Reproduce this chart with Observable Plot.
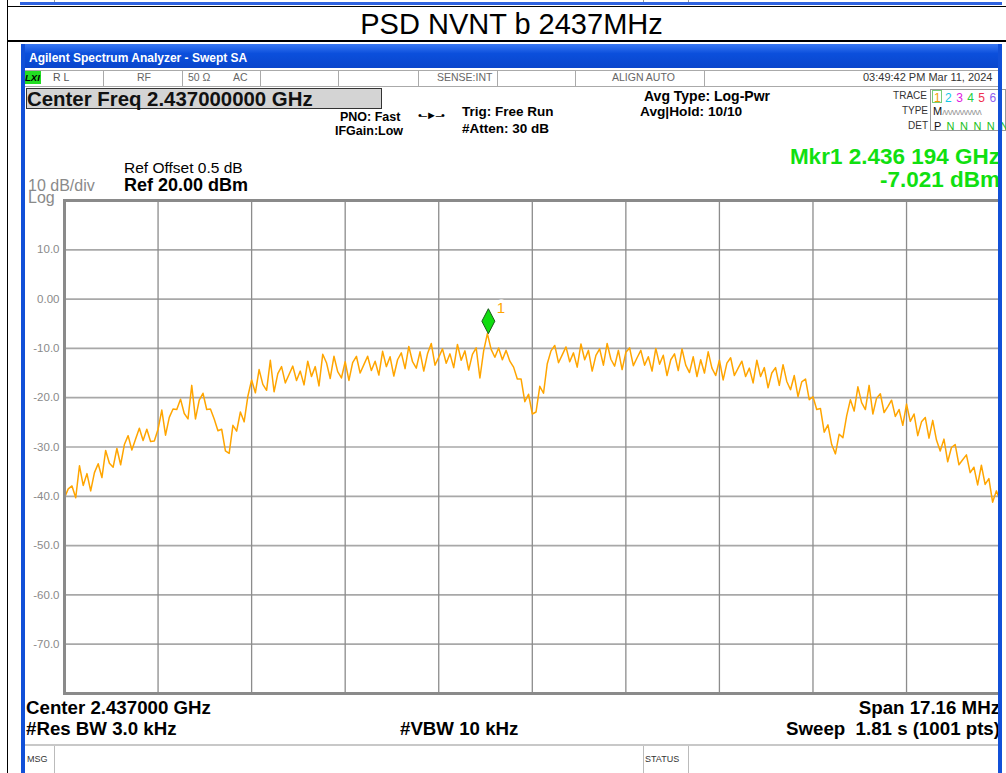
<!DOCTYPE html>
<html><head><meta charset="utf-8">
<script src="https://cdn.jsdelivr.net/npm/d3@7"></script>
<script src="https://cdn.jsdelivr.net/npm/@observablehq/plot@0.6"></script>
<style>
body{margin:0;background:#fff;}
#page{position:relative;width:1006px;height:773px;overflow:hidden;background:#fff;font-family:"Liberation Sans",Arial,sans-serif;}
.a{position:absolute;white-space:nowrap;line-height:1;z-index:2;}
.b{font-weight:bold;}
.ln{position:absolute;z-index:3;}
#chart{position:absolute;left:0;top:190px;z-index:1;}
</style></head><body><div id="page">
<!-- table lines -->
<div class="ln" style="left:7px;top:0;width:1px;height:773px;background:#000"></div>
<div class="ln" style="left:7px;top:6px;width:999px;height:1px;background:#000"></div>
<div class="ln" style="left:7px;top:40px;width:999px;height:2px;background:#000"></div>
<!-- remnant of previous screenshot -->
<div class="ln" style="left:20px;top:2px;width:982px;height:3px;background:#2f63e0"></div>
<div class="ln" style="left:54px;top:0;width:1px;height:2px;background:#999"></div>
<div class="ln" style="left:643px;top:0;width:1px;height:2px;background:#999"></div>
<div class="ln" style="left:688px;top:0;width:1px;height:2px;background:#999"></div>
<div class="a" id="title" style="left:8px;width:1007px;text-align:center;top:10px;font-size:29px;color:#000">PSD NVNT b 2437MHz</div>
<!-- analyzer window frame -->
<div class="ln" style="left:21px;top:44px;width:981px;height:24px;background:linear-gradient(#3a78f2,#0b4fdc 40%,#0a46cc);border-radius:4px 4px 0 0"></div>
<div class="ln" style="left:21px;top:44px;width:4px;height:729px;background:#1150d8"></div>
<div class="ln" style="left:998px;top:44px;width:4px;height:729px;background:#1150d8"></div>
<div class="a b" style="left:29px;top:52px;font-size:12px;color:#fff;z-index:4">Agilent Spectrum Analyzer - Swept SA</div>
<!-- status row -->
<div class="ln" style="left:25px;top:70px;width:973px;height:1px;background:#aaa"></div>
<div class="ln" style="left:25px;top:86px;width:973px;height:1px;background:#aaa"></div>
<div class="ln" style="left:103px;top:70px;width:1px;height:17px;background:#aaa"></div>
<div class="ln" style="left:182px;top:70px;width:1px;height:17px;background:#aaa"></div>
<div class="ln" style="left:260px;top:70px;width:1px;height:17px;background:#aaa"></div>
<div class="ln" style="left:338px;top:70px;width:1px;height:17px;background:#aaa"></div>
<div class="ln" style="left:418px;top:70px;width:1px;height:17px;background:#aaa"></div>
<div class="ln" style="left:497px;top:70px;width:1px;height:17px;background:#aaa"></div>
<div class="ln" style="left:575px;top:70px;width:1px;height:17px;background:#aaa"></div>
<div class="ln" style="left:704px;top:70px;width:1px;height:17px;background:#aaa"></div>
<div class="a b" style="left:25px;top:71px;width:16px;height:13px;background:#22dd22;font-size:9.5px;font-style:italic;color:#000;padding-top:2px;box-sizing:border-box">LXI</div>
<div class="a" style="left:53px;top:72px;font-size:10.5px;color:#555">R L</div>
<div class="a" style="left:137px;top:72px;font-size:10.5px;color:#666">RF</div>
<div class="a" style="left:188px;top:72px;font-size:10.5px;color:#666">50 Ω</div>
<div class="a" style="left:233px;top:72px;font-size:10.5px;color:#666">AC</div>
<div class="a" style="left:437px;top:72px;font-size:10.5px;color:#666">SENSE:INT</div>
<div class="a" style="left:612px;top:72px;font-size:10.5px;color:#666">ALIGN AUTO</div>
<div class="a" style="left:863px;top:72px;font-size:11px;color:#333">03:49:42 PM Mar 11, 2024</div>
<!-- settings -->
<div class="a" style="left:26px;top:88px;width:356px;height:21px;background:#d4d4d4;border:1px solid #333;box-sizing:border-box"></div>
<div class="a b" id="cf" style="left:27px;top:89px;font-size:20.4px;color:#111;z-index:3">Center Freq 2.437000000 GHz</div>
<div class="a b" style="left:340px;top:111px;font-size:12.5px;color:#000">PNO: Fast</div>
<div class="a b" style="left:335px;top:125px;font-size:12.5px;color:#000">IFGain:Low</div>
<div class="a" style="left:418px;top:110px;font-size:11px;color:#000;letter-spacing:-1px">•–►–•</div>
<div class="a b" style="left:462px;top:105px;font-size:13.5px;color:#000">Trig: Free Run</div>
<div class="a b" style="left:462px;top:122px;font-size:13.5px;color:#000">#Atten: 30 dB</div>
<div class="a b" style="left:644px;top:89px;font-size:14px;color:#000">Avg Type: Log-Pwr</div>
<div class="a b" style="left:640px;top:105px;font-size:13.7px;color:#000">Avg|Hold: 10/10</div>
<div class="a" style="right:79px;top:91px;font-size:10px;color:#333">TRACE</div>
<div class="a" style="right:78px;top:106px;font-size:10px;color:#333">TYPE</div>
<div class="a" style="right:78px;top:121px;font-size:10px;color:#333">DET</div>
<div class="a" style="left:930px;top:89px;width:76px;height:42px;border:1px solid #999;box-sizing:border-box;background:#fff"></div>
<div class="a" style="left:932px;top:90px;width:10px;height:13px;border:1px solid #7c7;box-sizing:border-box"></div>
<div class="a" style="left:934px;top:92px;font-size:12px;letter-spacing:4.4px"><span style="color:#f0a000">1</span><span style="color:#10c8e8">2</span><span style="color:#e020e0">3</span><span style="color:#20d040">4</span><span style="color:#f03050">5</span><span style="color:#9060f0">6</span></div>
<div class="a" style="left:933px;top:106px;font-size:11px;color:#111">M<span style="color:#999;font-size:9px;letter-spacing:-0.6px">ᴧᴧᴧᴧᴧᴧᴧᴧᴧᴧ</span></div>
<div class="a" style="left:934px;top:121px;font-size:11px;color:#111;letter-spacing:1.2px">P <span style="color:#20c020">N N N N N</span></div>
<div class="a b" style="right:6px;top:147px;font-size:22.5px;line-height:0.9;color:#10e010">Mkr1 2.436 194 GHz</div>
<div class="a b" style="right:6px;top:170px;font-size:22.5px;line-height:0.9;color:#10e010">-7.021 dBm</div>
<div class="a" style="left:124px;top:160px;font-size:15.5px;color:#000">Ref Offset 0.5 dB</div>
<div class="a b" style="left:124px;top:176px;font-size:18px;color:#000">Ref 20.00 dBm</div>
<div class="a" style="left:28px;top:180px;font-size:16px;line-height:0.8;color:#8a8a8a">10 dB/div</div>
<div class="a" style="left:28px;top:192px;font-size:16px;line-height:0.8;color:#8a8a8a">Log</div>
<div id="chart"></div>
<!-- bottom annotations -->
<div class="a b" style="left:26px;top:699px;font-size:18.7px;color:#000">Center 2.437000 GHz</div>
<div class="a b" style="left:26px;top:720px;font-size:18.7px;color:#000">#Res BW 3.0 kHz</div>
<div class="a b" style="left:400px;top:720px;font-size:18.7px;color:#000">#VBW 10 kHz</div>
<div class="a b" style="right:6px;top:699px;font-size:18.7px;color:#000">Span 17.16 MHz</div>
<div class="a b" style="right:6px;top:720px;font-size:18.7px;color:#000">Sweep&nbsp; 1.81 s (1001 pts)</div>
<div class="ln" style="left:25px;top:744px;width:973px;height:2px;background:#c8c8c8"></div>
<div class="ln" style="left:54px;top:746px;width:1px;height:27px;background:#bbb"></div>
<div class="ln" style="left:643px;top:746px;width:1px;height:27px;background:#bbb"></div>
<div class="ln" style="left:688px;top:746px;width:1px;height:27px;background:#bbb"></div>
<div class="a" style="left:27px;top:755px;font-size:9px;color:#333">MSG</div>
<div class="a" style="left:645px;top:755px;font-size:9px;color:#333">STATUS</div>
</div>
<script>
// sweep settings
const startMHz = 2428.42;
const spanMHz = 17.16;
const sweepPoints = 1001;
const sampleStep = 4; // every 4th sweep point
const refLevelDbm = 20;
const bottomLevelDbm = -80;
const xDivisions = 10;
const yTicks = [10, 0, -10, -20, -30, -40, -50, -60, -70];
const yTickLabels = ["10.0", "0.00", "-10.0", "-20.0", "-30.0", "-40.0", "-50.0", "-60.0", "-70.0"];
const markerFreqMHz = 2436.194;
const markerLevelDbm = -7.021;
const markerLabel = "1";
// trace 1 levels (dBm) at sweep points 0,4,8,...,1000
const traceLevelDbm = [
 -40.3,-38.5,-37.9,-40.3,-33.8,-37.8,-35.4,-38.9,-35.2,-33.4,-36.2,
 -30.7,-33.3,-34.1,-30.3,-33.6,-29.5,-27.7,-30.6,-28.4,-26.2,
 -28.7,-26.4,-28.9,-28.8,-26.4,-22.5,-27.6,-24.0,-22.3,-22.4,
 -20.3,-23.2,-24.3,-17.5,-24.3,-20.5,-19.1,-22.4,-22.3,-24.3,
 -26.7,-26.4,-30.8,-31.3,-25.6,-26.8,-22.9,-24.9,-19.7,-16.4,
 -19.0,-14.3,-17.3,-18.5,-12.4,-18.8,-15.1,-13.7,-17.0,-15.3,
 -13.6,-16.5,-14.6,-17.4,-12.6,-15.7,-13.7,-17.6,-11.2,-12.9,
 -16.1,-11.6,-14.7,-16.0,-12.7,-16.5,-12.9,-11.6,-15.0,-13.3,
 -11.6,-14.5,-12.6,-15.4,-10.6,-13.7,-11.7,-15.6,-12.3,-10.9,
 -14.1,-9.6,-12.7,-14.0,-10.7,-14.6,-11.1,-9.0,-13.4,-11.8,
 -10.1,-13.0,-11.1,-13.9,-9.2,-12.4,-10.5,-14.4,-11.2,-9.9,
 -16.0,-10.5,-7.0,-10.2,-11.8,-9.9,-12.3,-10.4,-12.6,-13.8,
 -16.2,-16.2,-20.8,-19.3,-23.3,-22.9,-17.7,-19.1,-13.1,-10.5,
 -9.4,-12.9,-11.3,-9.7,-12.7,-10.9,-13.8,-9.1,-12.3,-10.4,
 -14.6,-11.4,-10.1,-13.4,-9.0,-12.2,-13.6,-10.4,-14.3,-10.8,
 -9.9,-13.5,-11.9,-10.4,-13.4,-11.7,-14.6,-10.0,-13.2,-11.4,
 -15.5,-12.3,-11.1,-14.5,-10.1,-13.4,-14.9,-11.7,-15.7,-12.3,
 -15.0,-10.7,-14.0,-15.5,-12.4,-16.4,-13.0,-11.9,-15.5,-14.0,
 -12.6,-15.7,-14.0,-17.0,-12.4,-15.7,-13.9,-18.0,-15.0,-13.9,
 -17.5,-13.3,-16.7,-18.4,-15.5,-19.8,-16.8,-16.2,-20.4,-19.8,
 -22.4,-22.2,-27.0,-25.5,-29.5,-31.4,-27.4,-28.1,-23.7,-20.4,
 -22.7,-17.8,-21.0,-22.4,-17.5,-23.3,-20.1,-19.2,-23.0,-21.8,
 -20.5,-23.8,-22.4,-25.6,-21.3,-24.8,-23.3,-27.7,-24.9,-24.0,
 -28.2,-24.6,-28.6,-30.8,-28.4,-33.0,-30.1,-29.5,-33.6,-32.6,
 -31.6,-35.2,-34.1,-37.7,-33.7,-37.6,-36.4,-41.2,-38.9,-40.8
];

const binMHz = spanMHz / (sweepPoints - 1);
const trace = traceLevelDbm.map((level, k) => ({freq: startMHz + k * sampleStep * binMHz, level}));
const xGrid = d3.range(1, xDivisions).map(i => startMHz + i * spanMHz / xDivisions);
const labelOf = new Map(yTicks.map((t, i) => [t, yTickLabels[i]]));

const tallDiamond = {
  draw(ctx) {
    ctx.moveTo(0, 0);
    ctx.lineTo(6.5, -12.5);
    ctx.lineTo(0, -25);
    ctx.lineTo(-6.5, -12.5);
    ctx.closePath();
  }
};

const chart = Plot.plot({
  width: 1006,
  height: 510,
  marginLeft: 64,
  marginRight: 6.4,
  marginTop: 10,
  marginBottom: 7,
  style: {background: "transparent", fontFamily: "Liberation Sans, Arial, sans-serif"},
  x: {domain: [startMHz, startMHz + spanMHz], axis: null, label: null},
  y: {domain: [bottomLevelDbm, refLevelDbm], axis: null, label: null},
  marks: [
    Plot.gridY(yTicks, {stroke: "#a8a8a8", strokeOpacity: 1, strokeWidth: 1.7}),
    Plot.gridX(xGrid, {stroke: "#8c8c8c", strokeOpacity: 1, strokeWidth: 1.3}),
    Plot.line(trace, {x: "freq", y: "level", stroke: "#FFA500", strokeWidth: 1.5, clip: true}),
    Plot.frame({stroke: "#8a8a8a", strokeWidth: 3}),
    Plot.axisY(yTicks, {tickSize: 0, tickPadding: 5, label: null, tickFormat: d => labelOf.get(d), color: "#8a8a8a", fontSize: 11.5}),
    Plot.text([markerLabel], {x: () => markerFreqMHz, y: () => markerLevelDbm, text: d => d, dx: 12.5, dy: -26, fill: "#FFA500", stroke: "white", strokeWidth: 7, fontSize: 15}),
    Plot.dot([markerLabel], {x: () => markerFreqMHz, y: () => markerLevelDbm, symbol: tallDiamond, r: 5, fill: "#10dd10", stroke: "#1a5a1a", strokeWidth: 1})
  ]
});
document.getElementById("chart").appendChild(chart);
</script>
</body></html>
